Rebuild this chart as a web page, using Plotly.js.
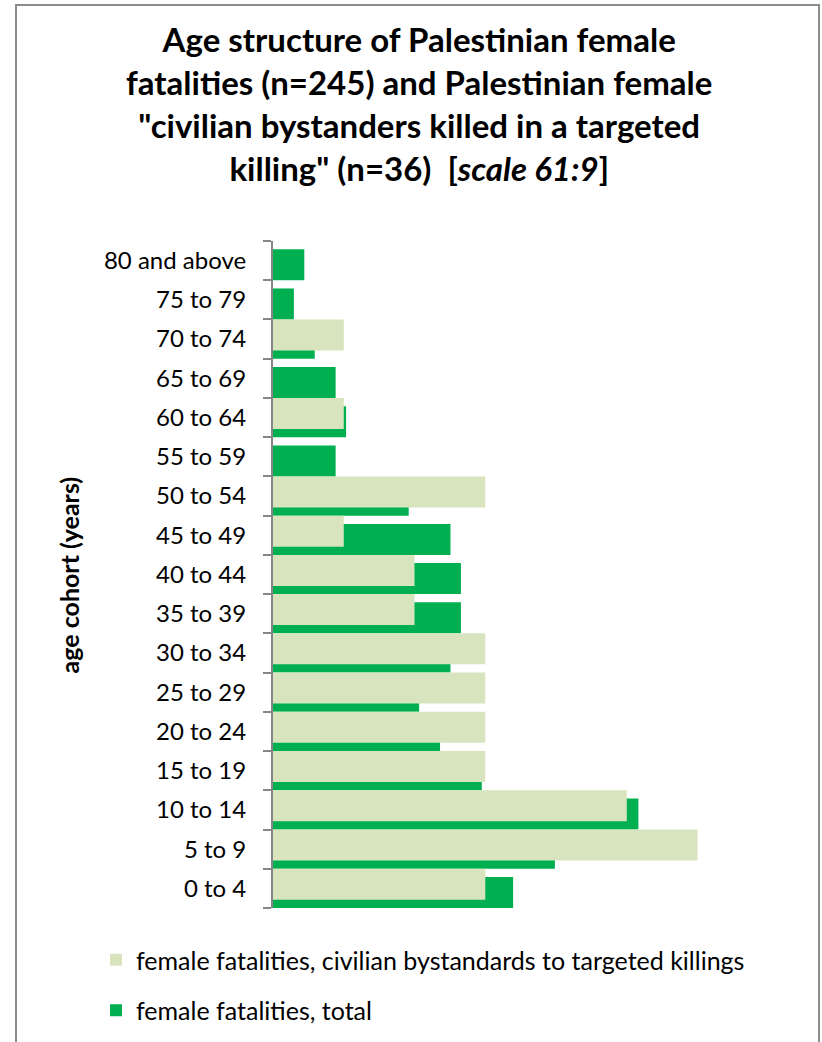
<!DOCTYPE html>
<html>
<head>
<meta charset="utf-8">
<script src="https://cdn.plot.ly/plotly-3.0.1.min.js"></script>
<style>
  html, body { margin: 0; padding: 0; background: #fff; }
  #wrap { position: relative; width: 822px; height: 1042px; overflow: hidden; }
  #chart { position: absolute; left: 0; top: 0; width: 822px; height: 1042px; }
  #frame { position: absolute; left: 15px; top: 4px; width: 805px; height: 1060px;
           border: 2px solid #8c8c8c; pointer-events: none; box-sizing: border-box; }
</style>
</head>
<body>
<div id="wrap">
  <div id="chart"></div>
  <div id="frame"></div>
</div>
<script>
// ---- data ----
const cohorts = ["0 to 4","5 to 9","10 to 14","15 to 19","20 to 24","25 to 29","30 to 34",
                 "35 to 39","40 to 44","45 to 49","50 to 54","55 to 59","60 to 64","65 to 69",
                 "70 to 74","75 to 79","80 and above"];
const femaleTotal      = [23, 27, 35, 20, 16, 14, 17, 18, 18, 17, 13, 6, 7, 6, 4, 2, 3];
const femaleBystanders = [3, 6, 5, 3, 3, 3, 3, 2, 2, 1, 3, 0, 1, 0, 1, 0, 0];
const scaleTotal = 61, scaleBystanders = 9;   // "scale 61:9"
const nameBystanders = "female fatalities, civilian bystandards to targeted killings";
const nameTotal = "female fatalities, total";

const totalMax = 50;
const FONT = "Lato, 'Open Sans', sans-serif";

const traces = [
  {
    type: "bar", orientation: "h", name: nameTotal,
    y: cohorts, x: femaleTotal, xaxis: "x", yaxis: "y",
    width: 0.79, offset: -0.5,
    marker: { color: "#00B050", line: { width: 0 } },
    legendrank: 2, legendgroup: "total", hoverinfo: "x+y"
  },
  {
    type: "bar", orientation: "h", name: nameBystanders,
    y: cohorts, x: femaleBystanders, xaxis: "x2", yaxis: "y",
    width: 0.79, offset: -0.29,
    marker: { color: "#D7E4BD", line: { width: 0 } },
    legendrank: 1, legendgroup: "bystanders", hoverinfo: "x+y"
  }
];

const layout = {
  width: 822, height: 1042,
  paper_bgcolor: "#fff", plot_bgcolor: "rgba(0,0,0,0)",
  font: { family: FONT, color: "#000" },
  margin: { l: 272.5, r: 26.5, t: 240.7, b: 133.7, pad: 0, autoexpand: false },
  barmode: "overlay",
  title: {
    text: "Age structure of Palestinian female<br>fatalities (n=245) and Palestinian female<br>\"civilian bystanders killed in a targeted<br>killing\" (n=36)  [<i>scale 61:9</i>]",
    font: { family: FONT, size: 33, color: "#000", weight: "bold" },
    xref: "container", x: 0.51, xanchor: "center",
    yref: "container", y: 1 - 52/1042, yanchor: "top"
  },
  xaxis: {
    range: [0, totalMax], fixedrange: true,
    showticklabels: false, showgrid: false, zeroline: false, showline: false, ticks: ""
  },
  xaxis2: {
    overlaying: "x", range: [0, totalMax * scaleBystanders / scaleTotal], fixedrange: true,
    showticklabels: false, showgrid: false, zeroline: false, showline: false, ticks: ""
  },
  yaxis: {
    type: "category", categoryorder: "array", categoryarray: cohorts,
    showline: true, linecolor: "#868686", linewidth: 2,
    ticks: "outside", tickson: "boundaries", ticklen: 8, tickwidth: 2, tickcolor: "#868686",
    ticklabelstandoff: 20,
    tickfont: { family: FONT, size: 24, color: "#000" },
    showgrid: false, zeroline: false, fixedrange: true, automargin: false
  },
  annotations: [{
    text: "<b>age cohort (years)</b>", textangle: -90,
    xref: "paper", yref: "paper", x: (68 - 272.5) / 523, y: 0.5,
    xanchor: "center", yanchor: "middle", showarrow: false,
    font: { family: FONT, size: 25, color: "#000" }
  }],
  showlegend: true,
  legend: {
    x: 96 / 822, xref: "container", y: 1 - 937 / 1042, yref: "container",
    xanchor: "left", yanchor: "top",
    traceorder: "grouped", tracegroupgap: 15,
    font: { family: FONT, size: 25, color: "#000" },
    bgcolor: "rgba(0,0,0,0)"
  }
};

Plotly.newPlot("chart", traces, layout, { staticPlot: true, displayModeBar: false });
</script>
</body>
</html>
